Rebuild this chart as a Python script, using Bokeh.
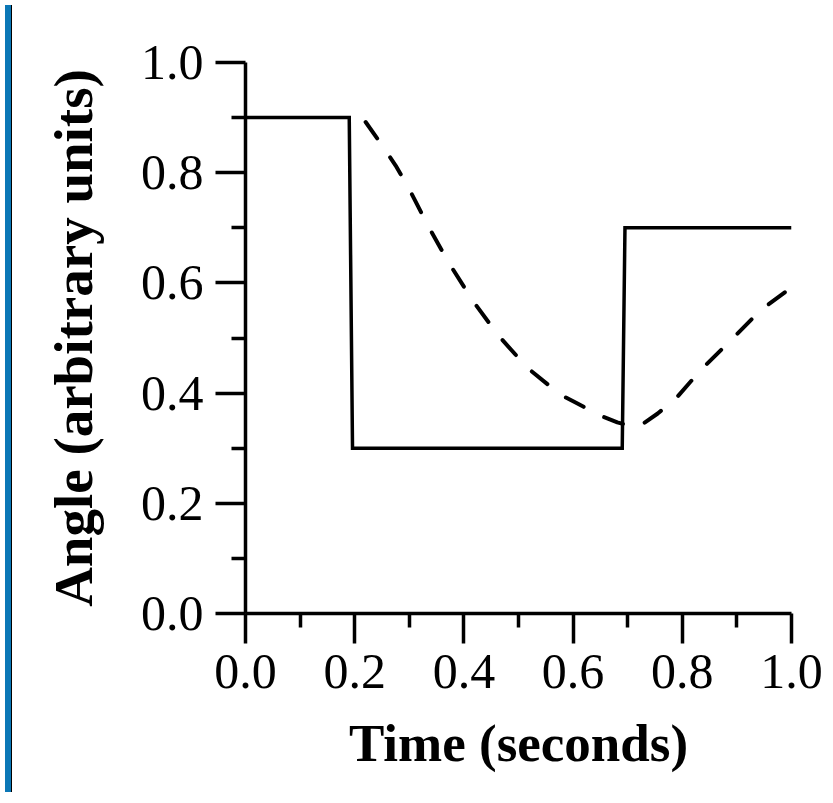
from bokeh.plotting import figure
from bokeh.models import Range1d, FixedTicker, PrintfTickFormatter, Div
from bokeh.layouts import row
from bokeh.embed import file_html
from bokeh.resources import INLINE

# ---- data ----
step_time = [0.0, 0.19, 0.196, 0.69, 0.695, 1.0]
step_angle = [0.9, 0.9, 0.3, 0.3, 0.7, 0.7]

smooth_time = [0.22, 0.25, 0.275, 0.30, 0.333, 0.372, 0.416, 0.462, 0.516, 0.577,
               0.608, 0.650, 0.681, 0.705, 0.723, 0.755, 0.788, 0.833, 0.897, 0.943, 1.0]
smooth_angle = [0.892, 0.85, 0.813, 0.770, 0.706, 0.637, 0.568, 0.506, 0.446, 0.397,
                0.381, 0.359, 0.347, 0.340, 0.341, 0.363, 0.390, 0.441, 0.504, 0.550, 0.592]

tick_values = [0.0, 0.2, 0.4, 0.6, 0.8, 1.0]
minor_values = [0.1, 0.3, 0.5, 0.7, 0.9]
tick_labels = ["0.0", "0.2", "0.4", "0.6", "0.8", "1.0"]

x_title = "Time (seconds)"
y_title = "Angle (arbitrary units)"

SERIF = "Liberation Serif"

p = figure(width=810, height=787, output_backend="svg", toolbar_location=None,
           x_range=Range1d(0, 1), y_range=Range1d(0, 1),
           min_border_left=228, min_border_right=36, min_border_top=62, min_border_bottom=174)
p.outline_line_color = None
p.grid.visible = False
p.background_fill_color = "white"
p.border_fill_color = "white"

for ax in (p.xaxis[0], p.yaxis[0]):
    ax.ticker = FixedTicker(ticks=tick_values, minor_ticks=minor_values)
    ax.formatter = PrintfTickFormatter(format="%.1f")
    ax.major_label_overrides = {v: s for v, s in zip(tick_values, tick_labels)}
    ax.axis_line_width = 3.5
    ax.axis_line_color = "black"
    ax.major_tick_line_width = 3.5
    ax.minor_tick_line_width = 3.5
    ax.major_tick_in = 0
    ax.major_tick_out = 30
    ax.minor_tick_in = 0
    ax.minor_tick_out = 14
    ax.major_label_text_font = SERIF
    ax.major_label_text_font_size = "50px"
    ax.major_label_text_color = "black"
    ax.axis_label_text_font = SERIF
    ax.axis_label_text_font_style = "bold"
    ax.axis_label_text_color = "black"

p.xaxis.axis_label = x_title
p.yaxis.axis_label = y_title
p.xaxis.axis_label_text_font_size = "53px"
p.yaxis.axis_label_text_font_size = "55px"
p.xaxis.major_label_standoff = 11
p.yaxis.major_label_standoff = 12
p.xaxis.axis_label_standoff = 23
p.yaxis.axis_label_standoff = 34

p.line(step_time, step_angle, line_color="black", line_width=3.5, line_join="miter")
p.line(smooth_time, smooth_angle, line_color="black", line_width=4,
       line_dash="20 23", line_cap="round")

strip = Div(text="", width=7, height=787,
            styles={"background": "linear-gradient(to right, #0b77b6 0px, #0b77b6 6px, #000000 6px, #000000 7px)"})

layout = row(strip, p)

open("out.html", "w").write(file_html(layout, INLINE))
